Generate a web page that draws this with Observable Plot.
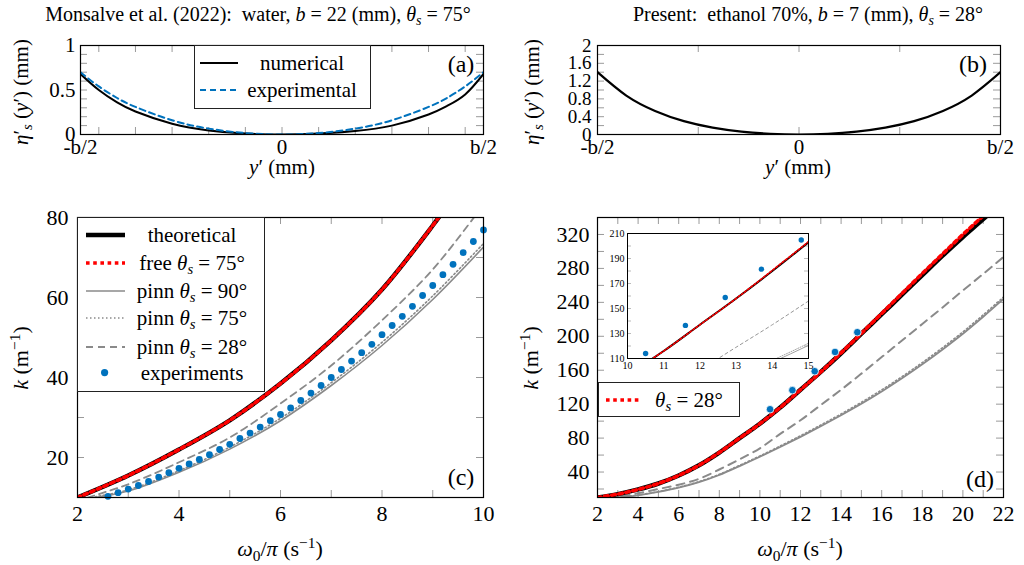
<!DOCTYPE html>
<html><head><meta charset="utf-8">
<script src="https://cdn.jsdelivr.net/npm/d3@7"></script>
<script src="https://cdn.jsdelivr.net/npm/@observablehq/plot@0.6"></script>
<style>
body{margin:0;background:#fff;}
#root{position:relative;width:1024px;height:565px;overflow:hidden;font-family:"Liberation Serif","DejaVu Serif","Noto Serif",serif;color:#000;background:#fff;}
.abs{position:absolute;white-space:nowrap;line-height:0.9;}
sub{font-size:70%;vertical-align:-0.3em;line-height:0;}
sup{font-size:70%;vertical-align:0.55em;line-height:0;}
.rot{transform:translate(-50%,-50%) rotate(-90deg);}
.ctr{transform:translate(-50%,-50%);}
.lg{position:absolute;border:1px solid #222;background:#fff;box-sizing:border-box;}
</style></head><body><div id="root"></div>
<script>
// ---------- Panel (a): Monsalve et al. profile ----------
const aYmm = [-11,-10,-9,-8,-6,-4,-2,0,2,4,6,8,9,10,11];
const aNumerical = [0.68,0.50,0.36,0.258,0.12,0.046,0.011,0,0.01,0.04,0.10,0.225,0.32,0.45,0.68];
const aExperimental = [0.70,0.54,0.41,0.31,0.16,0.066,0.016,0,0.016,0.066,0.16,0.31,0.41,0.54,0.70];
const aXTicks = [-11,0,11];
const aXTickLabels = ["-b/2","0","b/2"];
const aXMinor = [-10,-8,-6,-4,-2,0,2,4,6,8,10];
const aYTicks = [0,0.5,1];
const aYMinor = [0.1,0.2,0.3,0.4,0.5,0.6,0.7,0.8,0.9];

// ---------- Panel (b): present profile ----------
const bYmm = [-3.5,-3,-2.5,-2,-1.5,-1,-0.5,0,0.5,1,1.5,2,2.5,3,3.5];
const bNumerical = [1.40,0.875,0.53,0.30,0.155,0.065,0.016,0,0.016,0.065,0.155,0.30,0.53,0.875,1.40];
const bXTicks = [-3.5,0,3.5];
const bXTickLabels = ["-b/2","0","b/2"];
const bXMinor = [-1.75,0,1.75];
const bYTicks = [0,0.4,0.8,1.2,1.6,2];
const bYMinor = [0.2,0.4,0.6,0.8,1.0,1.2,1.4,1.6,1.8];

// ---------- Panel (c): dispersion, water ----------
const cTheoFreq = [2,3,4,5,6,7,8,9,9.2];
const cTheoK = [10,15.5,22,29.3,38.5,49.3,62,78,81.5];
const cFreeFreq = [2,3,4,5,6,7,8,9,9.2];
const cFreeK = [10,15.5,22,29.3,38.5,49.3,62,78,81.5];
const cPinn90Freq = [2.35,3,4,5,6,7,8,9,10];
const cPinn90K = [10,11.6,16.3,22.1,29.2,38,48,59.5,72.6];
const cPinn75Freq = [2.35,3,4,5,6,7,8,9,10];
const cPinn75K = [10.2,11.9,16.7,22.6,29.8,38.7,48.8,60.4,73.5];
const cPinn28Freq = [2.2,3,4,5,6,7,8,9,9.9];
const cPinn28K = [10,13.3,18.8,25,33.5,43,54.3,67,81.5];
const cExpFreq = [2.6,2.8,3.0,3.2,3.4,3.6,3.8,4.0,4.2,4.4,4.6,4.8,5.0,5.2,5.4,5.6,5.8,6.0,6.2,6.4,6.6,6.8,7.0,7.2,7.4,7.6,7.8,8.0,8.2,8.4,8.6,8.8,9.0,9.2,9.4,9.6,9.8,10.0];
const cExpK = [10.3,11.2,12.1,13,14,15.1,16.2,17.3,18.4,19.5,20.7,22,23.3,24.75,26.1,27.6,29.2,30.75,32.4,34.25,36.1,38,40,42,44.1,46.2,48.3,50.7,53,55.3,57.8,60.5,63,65.7,68.3,71.2,74,76.9];
const cXTicks = [2,4,6,8,10];
const cXMinor = [2,3,4,5,6,7,8,9,10];
const cYTicks = [20,40,60,80];
const cYMinor = [10,20,30,40,50,60,70,80];

// ---------- Panel (d): dispersion, ethanol ----------
const dTheoFreq = [2,3,4,5,6,7,8,9,10,11,12,13,14,15,16,17,18,19,20,21,22];
const dTheoK = [10,14,19.5,26.5,36,48,63,80,97,116,137,158,180,203,226,249,272,295,317,338,360];
const dFreeFreq = [2,3,4,5,6,7,8,9,10,11,12,13,14,15,16,17,18,19,20,21,22];
const dFreeK = [10,14,19.5,26.5,36,48,63,80,97,116,137,158,180.5,203.5,227,250.5,274,297,320,342,364];
const dPinn28Freq = [2.5,3,4,5,6,7,8,9,10,11,12,13,14,15,16,17,18,19,20,21,22];
const dPinn28K = [10,11,15,20,25,32,43,55,68,85,101,119,137,156,175.5,195,214.5,234,254,273.5,293.5];
const dPinn90Freq = [3,4,5,6,7,8,9,10,11,12,13,14,15,16,17,18,19,20,21,22];
const dPinn90K = [10,12.5,16.5,21.5,28,36.5,47,58,69.5,81.5,94,107,120.5,135,150.5,167,184.5,203,223,244];
const dPinn75Freq = [3,4,5,6,7,8,9,10,11,12,13,14,15,16,17,18,19,20,21,22];
const dPinn75K = [10.3,12.9,17,22.1,28.7,37.3,47.9,59,70.7,82.8,95.4,108.5,122.2,136.8,152.4,169,186.6,205.2,225.2,246.2];
const dExpFreq = [10.5,11.6,12.7,13.7,14.8];
const dExpK = [114,136.5,158.8,181.5,204.8];
const dXTicks = [2,4,6,8,10,12,14,16,18,20,22];
const dXMinor = [2,3,4,5,6,7,8,9,10,11,12,13,14,15,16,17,18,19,20,21,22];
const dYTicks = [40,80,120,160,200,240,280,320];
const dYMinor = [20,40,60,80,100,120,140,160,180,200,220,240,260,280,300,320,340];
const insetXTicks = [10,11,12,13,14,15];
const insetYTicks = [110,130,150,170,190,210];
const insetYMinor = [120,130,140,150,160,170,180,190,200];

const BLUE = "#0072bd", GRAY = "#8a8a8a", RED = "#ff0000";
const root = document.getElementById("root");
const FONT = "'Liberation Serif', 'DejaVu Serif', 'Noto Serif', serif";

const pts = (xs, ys) => xs.map((x, i) => ({x, y: ys[i]}));

function inTicks(xt, yt, W, H, len = 7, color = "#9a9a9a") {
  return [
    Plot.tickX(xt, {x: d => d, stroke: color, strokeWidth: 1, insetTop: H - len}),
    Plot.tickX(xt, {x: d => d, stroke: color, strokeWidth: 1, insetBottom: H - len}),
    Plot.tickY(yt, {y: d => d, stroke: color, strokeWidth: 1, insetRight: W - len}),
    Plot.tickY(yt, {y: d => d, stroke: color, strokeWidth: 1, insetLeft: W - len})
  ];
}

function panel({L, T, W, H, ml, mt, mr, mb, xDomain, yDomain, marks, fs}) {
  const svg = Plot.plot({
    width: W + ml + mr, height: H + mt + mb,
    marginLeft: ml, marginTop: mt, marginRight: mr, marginBottom: mb,
    x: {domain: xDomain}, y: {domain: yDomain},
    style: {fontFamily: FONT, fontSize: fs + "px", background: "transparent", overflow: "visible", color: "#000"},
    marks
  });
  svg.style.position = "absolute";
  svg.style.left = (L - ml) + "px";
  svg.style.top = (T - mt) + "px";
  svg.style.maxWidth = "none";
  root.appendChild(svg);
  return svg;
}

function axes(xt, xfmt, yt, yfmt, xpad, ypad, yfs) {
  return [
    Plot.axisX(xt, {anchor: "bottom", tickSize: 0, tickPadding: xpad, tickFormat: xfmt, label: null}),
    Plot.axisY(yt, {anchor: "left", tickSize: 0, tickPadding: ypad, tickFormat: yfmt, label: null, ...(yfs ? {fontSize: yfs} : {})})
  ];
}

// Panel (a)
{
  const W = 403, H = 89;
  panel({L: 80, T: 45, W, H, ml: 60, mt: 12, mr: 30, mb: 30, fs: 21,
    xDomain: [-11, 11], yDomain: [0, 1],
    marks: [
      ...inTicks(aXMinor, aYMinor, W, H),
      Plot.line(pts(aYmm, aNumerical), {x: "x", y: "y", stroke: "#000", strokeWidth: 2, curve: "natural", clip: true}),
      Plot.line(pts(aYmm, aExperimental), {x: "x", y: "y", stroke: BLUE, strokeWidth: 2, strokeDasharray: "6,4", curve: "natural", clip: true}),
      Plot.frame({stroke: "#000", strokeWidth: 1.2}),
      ...axes(aXTicks, d => aXTickLabels[aXTicks.indexOf(d)], aYTicks, d => String(d), 5, 5)
    ]});
}
// Panel (b)
{
  const W = 403, H = 89;
  panel({L: 597, T: 45, W, H, ml: 60, mt: 12, mr: 24, mb: 30, fs: 21,
    xDomain: [-3.5, 3.5], yDomain: [0, 2],
    marks: [
      ...inTicks(bXMinor, bYMinor, W, H),
      Plot.line(pts(bYmm, bNumerical), {x: "x", y: "y", stroke: "#000", strokeWidth: 2.2, curve: "natural", clip: true}),
      Plot.frame({stroke: "#000", strokeWidth: 1.2}),
      ...axes(bXTicks, d => bXTickLabels[bXTicks.indexOf(d)], bYTicks, d => String(d), 5, 6, 19)
    ]});
}
// Panel (c)
{
  const W = 406, H = 280;
  panel({L: 77, T: 217, W, H, ml: 60, mt: 12, mr: 30, mb: 34, fs: 22,
    xDomain: [2, 10], yDomain: [10, 80],
    marks: [
      ...inTicks(cXMinor, cYMinor, W, H),
      Plot.line(pts(cPinn90Freq, cPinn90K), {x: "x", y: "y", stroke: GRAY, strokeWidth: 1.6, curve: "catmull-rom", clip: true}),
      Plot.line(pts(cPinn75Freq, cPinn75K), {x: "x", y: "y", stroke: GRAY, strokeWidth: 1.6, strokeDasharray: "1.5,2.5", curve: "catmull-rom", clip: true}),
      Plot.line(pts(cPinn28Freq, cPinn28K), {x: "x", y: "y", stroke: GRAY, strokeWidth: 1.8, strokeDasharray: "7,5", curve: "catmull-rom", clip: true}),
      Plot.line(pts(cTheoFreq, cTheoK), {x: "x", y: "y", stroke: "#000", strokeWidth: 4.5, curve: "catmull-rom", clip: true}),
      Plot.line(pts(cFreeFreq, cFreeK), {x: "x", y: "y", stroke: RED, strokeWidth: 3.6, strokeDasharray: "3.6,3.6", curve: "catmull-rom", clip: true}),
      Plot.dot(pts(cExpFreq, cExpK), {x: "x", y: "y", r: 3.4, fill: BLUE, stroke: "none"}),
      Plot.frame({stroke: "#000", strokeWidth: 1.2}),
      ...axes(cXTicks, d => String(d), cYTicks, d => String(d), 8, 9)
    ]});
}
// Panel (d)
{
  const W = 406, H = 280;
  panel({L: 597, T: 217, W, H, ml: 65, mt: 12, mr: 21, mb: 34, fs: 22,
    xDomain: [2, 22], yDomain: [10, 340],
    marks: [
      ...inTicks(dXMinor, dYMinor, W, H),
      Plot.line(pts(dPinn90Freq, dPinn90K), {x: "x", y: "y", stroke: GRAY, strokeWidth: 1.8, curve: "catmull-rom", clip: true}),
      Plot.line(pts(dPinn75Freq, dPinn75K), {x: "x", y: "y", stroke: GRAY, strokeWidth: 1.6, strokeDasharray: "1.5,2.5", curve: "catmull-rom", clip: true}),
      Plot.line(pts(dPinn28Freq, dPinn28K), {x: "x", y: "y", stroke: GRAY, strokeWidth: 2, strokeDasharray: "8,6", curve: "catmull-rom", clip: true}),
      Plot.line(pts(dTheoFreq, dTheoK), {x: "x", y: "y", stroke: "#000", strokeWidth: 4.5, curve: "catmull-rom", clip: true}),
      Plot.line(pts(dFreeFreq, dFreeK), {x: "x", y: "y", stroke: RED, strokeWidth: 3.6, strokeDasharray: "3.6,3.6", curve: "catmull-rom", clip: true}),
      Plot.dot(pts(dExpFreq, dExpK), {x: "x", y: "y", r: 3.8, fill: BLUE, stroke: "#fff", strokeWidth: 0.8}),
      Plot.frame({stroke: "#000", strokeWidth: 1.2}),
      ...axes(dXTicks, d => String(d), dYTicks, d => String(d), 8, 8)
    ]});
}
// Inset in (d)
{
  const W = 181, H = 125;
  panel({L: 627, T: 233, W, H, ml: 30, mt: 4, mr: 8, mb: 16, fs: 10,
    xDomain: [10, 15], yDomain: [110, 210],
    marks: [
      Plot.frame({fill: "#fff", stroke: "none"}),
      Plot.tickY(insetYMinor, {y: d => d, stroke: "#aaa", strokeWidth: 0.8, insetRight: W - 4}),
      Plot.tickY(insetYMinor, {y: d => d, stroke: "#aaa", strokeWidth: 0.8, insetLeft: W - 4}),
      Plot.line(pts(dPinn90Freq, dPinn90K), {x: "x", y: "y", stroke: GRAY, strokeWidth: 0.8, curve: "catmull-rom", clip: true}),
      Plot.line(pts(dPinn75Freq, dPinn75K), {x: "x", y: "y", stroke: GRAY, strokeWidth: 0.8, strokeDasharray: "1,1.5", curve: "catmull-rom", clip: true}),
      Plot.line(pts(dPinn28Freq, dPinn28K), {x: "x", y: "y", stroke: GRAY, strokeWidth: 0.9, strokeDasharray: "3,3", curve: "catmull-rom", clip: true}),
      Plot.line(pts(dTheoFreq, dTheoK), {x: "x", y: "y", stroke: "#000", strokeWidth: 2, curve: "catmull-rom", clip: true}),
      Plot.line(pts(dFreeFreq, dFreeK), {x: "x", y: "y", stroke: RED, strokeWidth: 1.6, strokeDasharray: "2,2", curve: "catmull-rom", clip: true}),
      Plot.dot(pts(dExpFreq, dExpK), {x: "x", y: "y", r: 2.7, fill: BLUE, stroke: "none"}),
      Plot.frame({stroke: "#000", strokeWidth: 1}),
      ...axes(insetXTicks, d => String(d), insetYTicks, d => String(d), 3, 3)
    ]});
}

// ---------- HTML text: titles, axis titles, legends ----------
function addText(html, x, y, size, cls = "ctr") {
  const el = document.createElement("div");
  el.className = "abs " + cls;
  el.style.left = x + "px"; el.style.top = y + "px";
  el.style.fontSize = size + "px";
  el.innerHTML = html;
  root.appendChild(el);
  return el;
}
const TH = "<i>θ<sub>s</sub></i>";
addText("Monsalve et al. (2022): &nbsp;water, <i>b</i> = 22 (mm), " + TH + " = 75°", 258, 14, 20);
addText("Present: &nbsp;ethanol 70%, <i>b</i> = 7 (mm), " + TH + " = 28°", 808, 14, 20);
const ETA = "<i>η</i>′<sub><i>s</i></sub> (<i>y</i>′) (mm)";
addText(ETA, 21, 92, 21, "rot");
addText(ETA, 532, 92, 21, "rot");
addText("<i>y</i>′ (mm)", 282, 167, 21);
addText("<i>y</i>′ (mm)", 798, 167, 21);
const KLAB = "<i>k</i> (m<sup>−1</sup>)";
addText(KLAB, 21, 358, 22, "rot");
addText(KLAB, 531, 358, 22, "rot");
const WLAB = "<i>ω</i><sub>0</sub>/<i>π</i> (s<sup>−1</sup>)";
addText(WLAB, 280, 549, 22);
addText(WLAB, 800, 549, 22);
addText("(a)", 461, 65, 24);
addText("(b)", 973, 65, 24);
addText("(c)", 461, 478, 24);
addText("(d)", 980, 480, 24);

function legendBox(x, y, w, h) {
  const b = document.createElement("div");
  b.className = "lg";
  b.style.left = x + "px"; b.style.top = y + "px";
  b.style.width = w + "px"; b.style.height = h + "px";
  root.appendChild(b);
}
function sample(x1, x2, y, stroke, width, dash) {
  const el = document.createElement("div");
  el.className = "abs";
  el.style.left = x1 + "px"; el.style.top = (y - 6) + "px";
  el.innerHTML = `<svg width="${x2 - x1}" height="12" style="display:block"><line x1="0" y1="6" x2="${x2 - x1}" y2="6" stroke="${stroke}" stroke-width="${width}" ${dash ? `stroke-dasharray="${dash}"` : ""}/></svg>`;
  root.appendChild(el);
}
function sampleDot(x, y, r, fill) {
  const el = document.createElement("div");
  el.className = "abs";
  el.style.left = (x - r) + "px"; el.style.top = (y - r) + "px";
  el.innerHTML = `<svg width="${2 * r}" height="${2 * r}" style="display:block"><circle cx="${r}" cy="${r}" r="${r}" fill="${fill}"/></svg>`;
  root.appendChild(el);
}
// legend (a)
legendBox(194, 45, 177, 64);
sample(200, 238, 63, "#000", 2, "");
sample(200, 238, 90, BLUE, 2, "6,4");
addText("numerical", 302, 63, 21);
addText("experimental", 302, 90, 21);
// legend (c)
legendBox(77, 217, 188, 175);
const cRows = [235, 263, 291, 318, 347, 373];
sample(86, 125, cRows[0], "#000", 4.5, "");
sample(86, 125, cRows[1], RED, 3.6, "3.6,3.6");
sample(86, 125, cRows[2], GRAY, 1.6, "");
sample(86, 125, cRows[3], GRAY, 1.6, "1.5,2.5");
sample(86, 125, cRows[4], GRAY, 1.8, "7,5");
sampleDot(105, cRows[5], 3.6, BLUE);
addText("theoretical", 192, cRows[0], 21);
addText("free " + TH + " = 75°", 192, cRows[1], 21);
addText("pinn " + TH + " = 90°", 192, cRows[2], 21);
addText("pinn " + TH + " = 75°", 192, cRows[3], 21);
addText("pinn " + TH + " = 28°", 192, cRows[4], 21);
addText("experiments", 192, cRows[5], 21);
// legend (d)
legendBox(598, 382, 142, 35);
sample(606, 640, 400, RED, 3.6, "3.6,3.6");
addText(TH + " = 28°", 689, 400, 21);
</script></body></html>
